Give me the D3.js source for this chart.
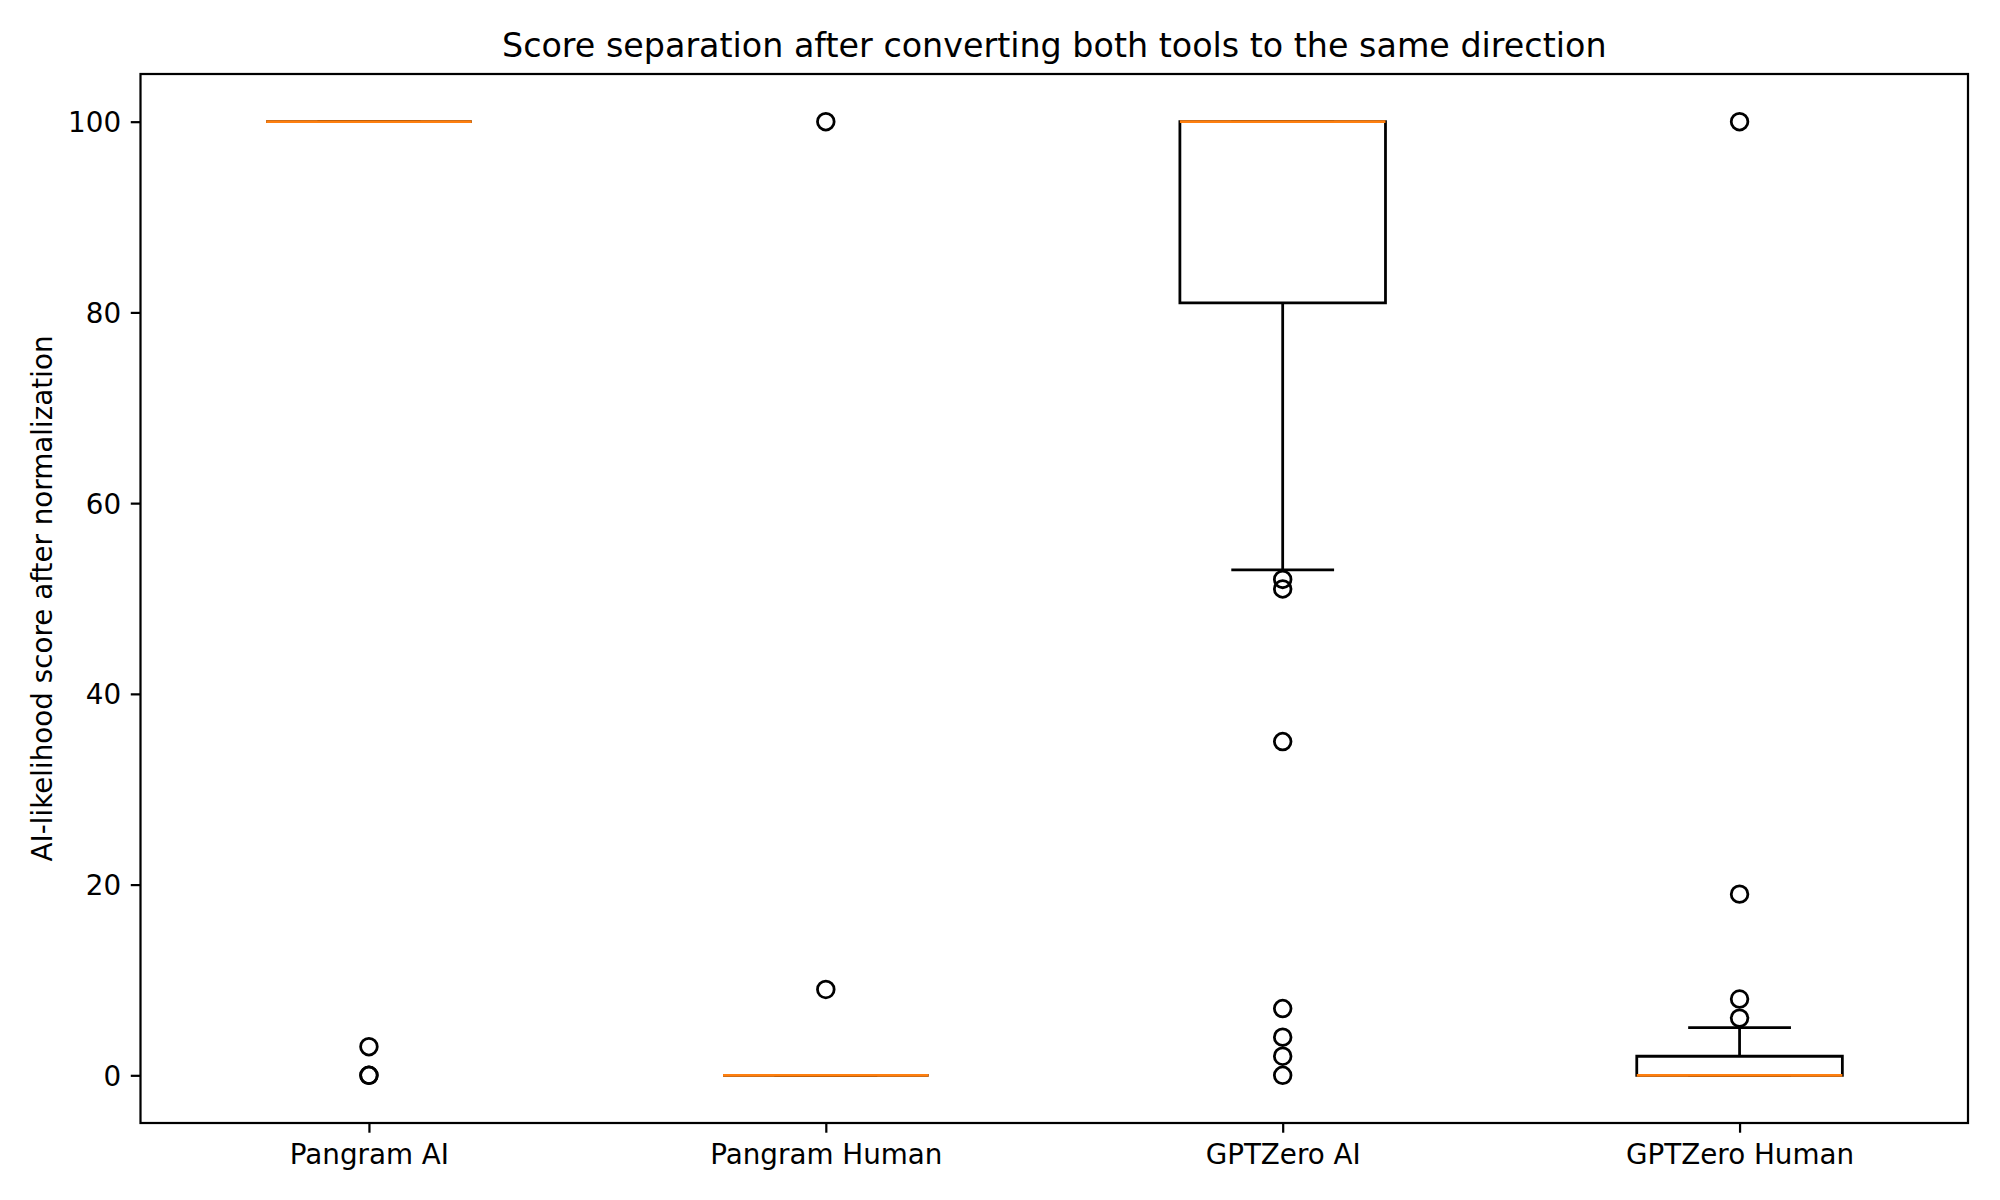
<!DOCTYPE html>
<html>
<head>
<meta charset="utf-8">
<script src="https://cdn.jsdelivr.net/npm/d3@7"></script>
<style>
  body { margin: 0; background: white; }
  text { font-family: "DejaVu Sans", sans-serif; fill: black; }
</style>
</head>
<body>
<div id="chart"></div>
<script>
"use strict";

// box summaries
var groups = ["Pangram AI", "Pangram Human", "GPTZero AI", "GPTZero Human"];
var q1 = [100, 0, 81, 0];
var medians = [100, 0, 100, 0];
var q3 = [100, 0, 100, 2];
var whiskerLow = [100, 0, 53, 0];
var whiskerHigh = [100, 0, 100, 5];
var outliers = [
    [3, 0, 0],
    [100, 9],
    [52, 51, 35, 7, 4, 2, 0],
    [100, 19, 8, 6]
];
var yTicks = [0, 20, 40, 60, 80, 100];

var title = "Score separation after converting both tools to the same direction";
var yLabel = "AI-likelihood score after normalization";

var width = 2000, height = 1200;
var margin = {left: 140.5, right: 32, top: 74, bottom: 77};
var plotW = width - margin.left - margin.right;
var plotH = height - margin.top - margin.bottom;

var pt = 200 / 72;
var boxStroke = 1 * pt;
var spineStroke = 0.8 * pt;
var tickLen = 3.5 * pt;
var fontSize = 10 * pt;

var svg = d3.select("#chart").append("svg")
    .attr("width", width)
    .attr("height", height);

var g = svg.append("g")
    .attr("transform", "translate(" + [margin.left, margin.top] + ")");

var x = d3.scaleLinear().domain([0.5, 4.5]).range([0, plotW]);
var y = d3.scaleLinear().domain([-5, 105]).range([plotH, 0]);

var boxHalf = 0.225, capHalf = 0.1125;

var yAxis = d3.axisLeft(y)
    .tickValues(yTicks)
    .tickSize(tickLen)
    .tickPadding(tickLen);
var yAxisG = g.append("g").call(yAxis);

var xAxis = d3.axisBottom(x)
    .tickValues([1, 2, 3, 4])
    .tickFormat((d, i) => groups[i])
    .tickSize(tickLen)
    .tickPadding(tickLen);
var xAxisG = g.append("g")
    .attr("transform", "translate(0," + plotH + ")")
    .call(xAxis);

[yAxisG, xAxisG].forEach(function (ax) {
    ax.select(".domain").remove();
    ax.selectAll(".tick line")
        .attr("stroke", "black")
        .attr("stroke-width", spineStroke);
    ax.selectAll(".tick text")
        .attr("font-family", "DejaVu Sans")
        .attr("font-size", fontSize)
        .attr("fill", "black");
});
xAxisG.selectAll(".tick text").attr("dy", "0.76em");
yAxisG.selectAll(".tick text").attr("dy", "0.36em");

var boxes = g.append("g").selectAll("g")
    .data(groups.map((name, i) => ({
        pos: i + 1, q1: q1[i], med: medians[i], q3: q3[i],
        lo: whiskerLow[i], hi: whiskerHigh[i], fliers: outliers[i]
    })))
    .enter().append("g");

function segment(sel, x1, y1, x2, y2, color) {
    sel.append("line")
        .attr("x1", x1).attr("y1", y1)
        .attr("x2", x2).attr("y2", y2)
        .attr("stroke", color || "black")
        .attr("stroke-width", boxStroke);
}

boxes.each(function (d) {
    var s = d3.select(this);
    var cx = x(d.pos);
    // whiskers
    segment(s, cx, y(d.q1), cx, y(d.lo));
    segment(s, cx, y(d.q3), cx, y(d.hi));
    // caps
    segment(s, x(d.pos - capHalf), y(d.lo), x(d.pos + capHalf), y(d.lo));
    segment(s, x(d.pos - capHalf), y(d.hi), x(d.pos + capHalf), y(d.hi));
    // box
    s.append("path")
        .attr("d", d3.line()([
            [x(d.pos - boxHalf), y(d.q1)], [x(d.pos + boxHalf), y(d.q1)],
            [x(d.pos + boxHalf), y(d.q3)], [x(d.pos - boxHalf), y(d.q3)]
        ]) + "Z")
        .attr("fill", "none")
        .attr("stroke", "black")
        .attr("stroke-width", boxStroke)
        .attr("stroke-linejoin", "miter");
    // median
    segment(s, x(d.pos - boxHalf), y(d.med), x(d.pos + boxHalf), y(d.med), "#ff7f0e");
    // fliers
    s.selectAll("circle")
        .data(d.fliers)
        .enter().append("circle")
        .attr("cx", cx)
        .attr("cy", v => y(v))
        .attr("r", 3 * pt)
        .attr("fill", "none")
        .attr("stroke", "black")
        .attr("stroke-width", boxStroke);
});

// frame
g.append("rect")
    .attr("width", plotW)
    .attr("height", plotH)
    .attr("fill", "none")
    .attr("stroke", "black")
    .attr("stroke-width", spineStroke);

svg.append("text")
    .attr("x", margin.left + plotW / 2)
    .attr("y", margin.top - 6 * pt)
    .attr("text-anchor", "middle")
    .attr("font-size", 12 * pt)
    .text(title);

svg.append("text")
    .attr("transform", "translate(" + [52, margin.top + plotH / 2] + ") rotate(-90)")
    .attr("text-anchor", "middle")
    .attr("font-size", fontSize)
    .text(yLabel);
</script>
</body>
</html>
